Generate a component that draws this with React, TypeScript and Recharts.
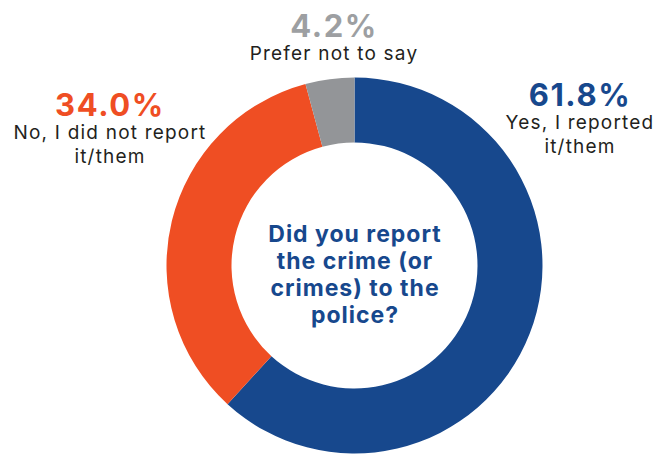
import React from 'react'
import { Cell, Customized, Pie, PieChart } from 'recharts'

const categories = ['Yes, I reported it/them', 'No, I did not report it/them', 'Prefer not to say']
const values = [61.8, 34.0, 4.2]
const percentLabels = ['61.8%', '34.0%', '4.2%']
const labelLines = [['Yes, I reported', 'it/them'], ['No, I did not report', 'it/them'], ['Prefer not to say']]
const question = ['Did you report', 'the crime (or', 'crimes) to the', 'police?']

const sliceColors = ['#17488D', '#EF4E23', '#939598']
const percentColors = ['#17488D', '#EF4E23', '#9D9FA2']

// where each outside label sits: x, baseline of the percentage
const labelSpots = [
    { x: 580, y: 106 },
    { x: 110, y: 116 },
    { x: 334, y: 37 }
]

const data = categories.map((name, i) => ({ name, value: values[i] }))

const FONT = 'Inter, "Open Sans", sans-serif'

const Labels = () => (
    <g>
        {labelSpots.map((spot, i) => (
            <g key={`lbl-${i}`}>
                <text
                    x={spot.x}
                    y={spot.y}
                    textAnchor={'middle'}
                    fill={percentColors[i]}
                    fontFamily={FONT}
                    fontWeight={700}
                    fontSize={31}
                    letterSpacing={1.6}
                >
                    {percentLabels[i]}
                </text>
                {labelLines[i].map((line, j) => (
                    <text
                        key={`line-${j}`}
                        x={spot.x}
                        y={spot.y + 23 + j * 24}
                        textAnchor={'middle'}
                        fill={'#231F20'}
                        fontFamily={FONT}
                        fontSize={19}
                        letterSpacing={1.2}
                    >
                        {line}
                    </text>
                ))}
            </g>
        ))}
        {question.map((line, j) => (
            <text
                key={`q-${j}`}
                x={355}
                y={242 + j * 27}
                textAnchor={'middle'}
                fill={'#17488D'}
                fontFamily={FONT}
                fontWeight={700}
                fontSize={23}
                letterSpacing={1}
            >
                {line}
            </text>
        ))}
    </g>
)

const App: React.FC = () => (
    <div style={{ position: 'absolute', left: 0, top: 0, width: 657, height: 455, background: '#ffffff' }}>
        <PieChart
            width={657}
            height={455}
            margin={{ top: 0, right: 0, bottom: 0, left: 0 }}
        >
            <Pie
                data={data}
                dataKey={'value'}
                nameKey={'name'}
                cx={354.5}
                cy={265.5}
                innerRadius={123}
                outerRadius={188}
                startAngle={90}
                endAngle={-270}
                stroke={'none'}
                isAnimationActive={false}
            >
                {data.map((entry, index) => (
                    <Cell
                        key={`cell-${index}`}
                        fill={sliceColors[index]}
                    />
                ))}
            </Pie>
            <Customized component={Labels} />
        </PieChart>
    </div>
)

export default App
